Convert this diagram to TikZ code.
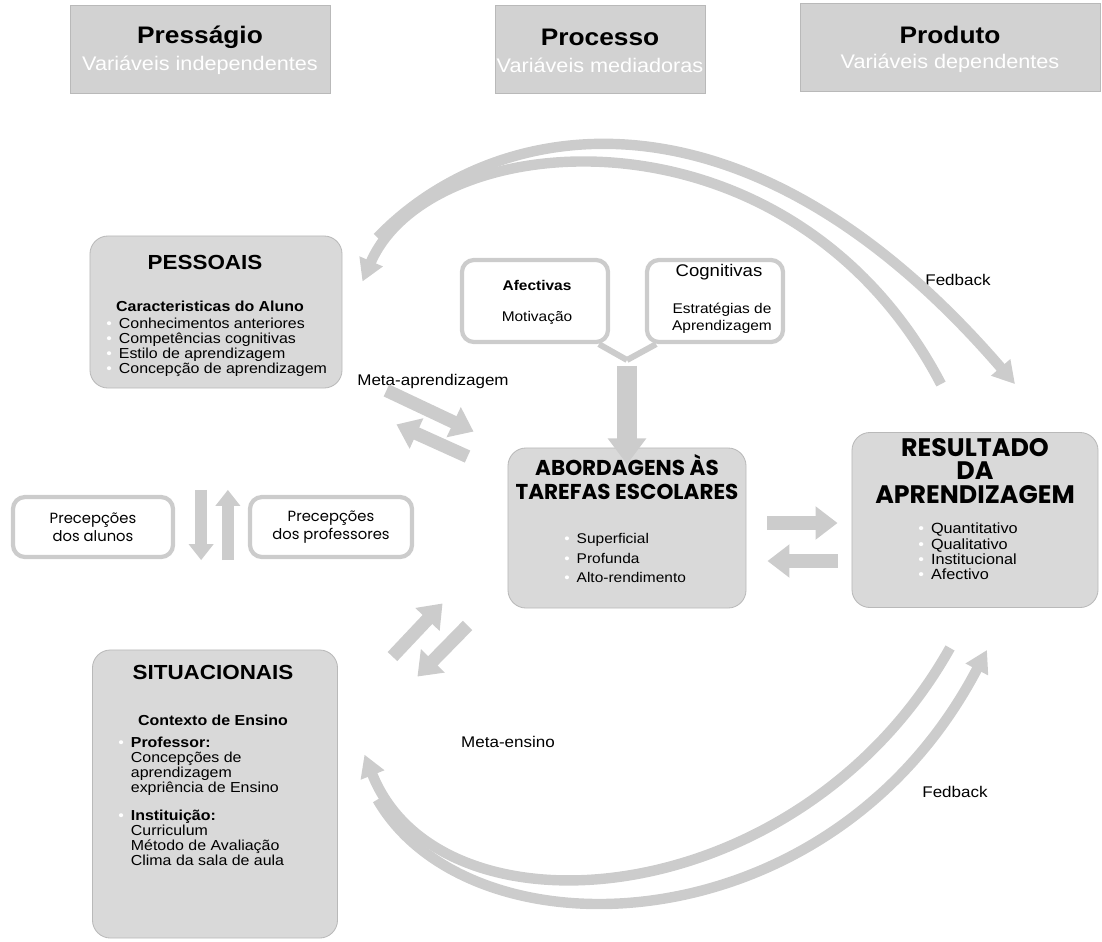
\documentclass[tikz,border=0pt]{standalone}
\usepackage{fontspec}
\setmainfont{Liberation Sans}[FakeStretch=1.1]
\newfontfamily\gothic{Poppins}
\usetikzlibrary{arrows.meta, positioning, calc}
\newcommand{\dotw}{\textcolor{white}{\textbullet}}
\newcommand{\bul}{\dotw\hspace{5pt}}

\begin{document}
\begin{tikzpicture}[x=0.025cm, y=-0.025cm,
    headbox/.style={rectangle, fill=gray!35, draw=gray!55, minimum height=2.2cm},
    headT/.style={font=\fontsize{17}{20}\selectfont\bfseries},
    headS/.style={font=\fontsize{14}{16}\selectfont, text=white},
    panel/.style={rectangle, rounded corners=0.45cm, fill=gray!30, draw=gray!55, line width=0.6pt},
    whitebox/.style={rectangle, rounded corners=0.3cm, fill=white, draw=gray!40, line width=3pt},
    ptitle/.style={font=\fontsize{14.5}{16}\selectfont\bfseries},
    psub/.style={font=\fontsize{10.3}{12}\selectfont\bfseries},
    plist/.style={font=\fontsize{10.3}{10.6}\selectfont, align=left, anchor=north west, inner sep=0pt},
    gtitle/.style={font=\gothic\fontsize{15.3}{16.5}\selectfont\bfseries, align=center},
    lbl/.style={font=\fontsize{11}{13}\selectfont},
    fat/.style={line width=0.48cm, gray!40, -{Triangle[width=0.92cm,length=0.65cm]}},
    slim/.style={line width=0.33cm, gray!40, -{Triangle[width=0.8cm,length=0.55cm]}},
    vert/.style={line width=0.3cm, gray!40, -{Triangle[width=0.6cm,length=0.4cm]}},
    arm/.style={line width=0.15cm, gray!40},
    arc/.style={line width=0.26cm, gray!40, -{Triangle[width=0.6cm,length=0.55cm]}}]
    \useasboundingbox (0,0) rectangle (1102,941);

    % Nodes
    \node[headbox, minimum width=6.5cm] (pressagio) at (200,49) {};
    \node[headT] (pressagioT) at (200,37) {Presságio};
    \node[headS] (pressagioS) at (200,65) {Variáveis independentes};
    \node[headbox, minimum width=5.25cm] (processo) at (600,49) {};
    \node[headT] (processoT) at (600,37) {Processo};
    \node[headS] (processoS) at (600,65) {Variáveis mediadoras};
    \node[headbox, minimum width=7.5cm] (produto) at (950,47) {};
    \node[headT] (produtoT) at (950,35) {Produto};
    \node[headS] (produtoS) at (950,63) {Variáveis dependentes};

    \node[panel, minimum width=6.3cm, minimum height=3.8cm] (pessoais) at (216,312) {};
    \node[ptitle] (pessoaisT) at (205,262) {PESSOAIS};
    \node[psub] (alunoT) at (210,306) {Caracteristicas do Aluno};
    \node[plist] (alunoL) at (106,318) {\bul Conhecimentos anteriores\\ \bul Competências cognitivas\\ \bul Estilo de aprendizagem\\ \bul Concepção de aprendizagem};

    \node[whitebox, minimum width=3.65cm, minimum height=2.05cm] (afect) at (535,301) {};
    \node[font=\fontsize{10}{12}\selectfont\bfseries] (afectT) at (537,285) {Afectivas};
    \node[font=\fontsize{10}{12}\selectfont] (afectM) at (537,318) {Motivação};
    \node[whitebox, minimum width=3.4cm, minimum height=2.05cm] (cogn) at (715,301) {};
    \node[font=\fontsize{12}{14}\selectfont] (cognT) at (719,272) {Cognitivas};
    \node[font=\fontsize{10}{12}\selectfont, align=center] (cognE) at (722,318) {Estratégias de\\Aprendizagem};
    \coordinate (ymerge) at (627,360);

    \node[lbl] (metaA) at (433,381) {Meta-aprendizagem};

    \node[panel, minimum width=5.95cm, minimum height=4cm] (abord) at (627,528) {};
    \node[gtitle] (abordT) at (627,477) {ABORDAGENS ÀS\\TAREFAS ESCOLARES};
    \node[plist, font=\fontsize{10}{13.9}\selectfont] (abordL) at (564,533) {\bul Superficial\\ \bul Profunda\\ \bul Alto-rendimento};

    \node[panel, minimum width=6.15cm, minimum height=4.375cm] (result) at (975,520) {};
    \node[gtitle, font=\gothic\fontsize{18}{16.7}\selectfont\bfseries] (resultT) at (975,471) {RESULTADO\\DA\\APRENDIZAGEM};
    \node[plist, font=\fontsize{10.5}{10.7}\selectfont] (resultL) at (918,523) {\bul Quantitativo\\ \bul Qualitativo\\ \bul Institucional\\ \bul Afectivo};

    \node[whitebox, font=\gothic\fontsize{10.5}{12.5}\selectfont, minimum width=4cm, minimum height=1.5cm, align=center] (percA) at (93,527) {Precepções\\dos alunos};
    \node[whitebox, font=\gothic\fontsize{10.5}{12.5}\selectfont, minimum width=4.05cm, minimum height=1.5cm, align=center] (percB) at (331,527) {Precepções\\dos professores};

    \node[panel, minimum width=6.125cm, minimum height=7.2cm] (situ) at (215,794) {};
    \node[ptitle] (situT) at (213,672) {SITUACIONAIS};
    \node[psub] (ensinoT) at (213,720) {Contexto de Ensino};
    \node[plist] (ensinoL) at (118,737) {\begin{tabular}{@{}l@{\hspace{5pt}}l@{}}
        \dotw & \textbf{Professor:}\\
              & Concepções de\\
              & aprendizagem\\
              & expriência de Ensino\\[9pt]
        \dotw & \textbf{Instituição:}\\
              & Curriculum\\
              & Método de Avaliação\\
              & Clima da sala de aula
        \end{tabular}};

    \node[lbl] (metaE) at (508,742) {Meta-ensino};
    \node[lbl] (fbTop) at (958,280) {Fedback};
    \node[lbl] (fbBot) at (955,792) {Fedback};

    % Edges
    \draw[arc] ([shift={(35,2)}]pessoais.north east) .. controls (490,120) and (740,65) .. ([shift={(40,-48)}]result.north);
    \draw[arc] ([shift={(-34,-48)}]result.north) .. controls (790,95) and (430,125) .. ([shift={(20,46)}]pessoais.north east);
    \draw[arc] ([shift={(-25,40)}]result.south) .. controls (800,915) and (440,945) .. ([shift={(26.5,105)}]situ.north east);
    \draw[arc] ([shift={(39.5,150)}]situ.north east) .. controls (470,960) and (830,950) .. ([shift={(12,42)}]result.south);

    \draw[arm] ([xshift=-8]afect.south east) -- (ymerge);
    \draw[arm] ([xshift=8]cogn.south west) -- (ymerge);
    \draw[fat] ([yshift=-4]ymerge) -- ([yshift=-12]abord.north);

    \draw[slim] ([shift={(44,2)}]pessoais.south east) -- ([shift={(-34,-16)}]abord.north west);
    \draw[slim] ([shift={(-40,9)}]abord.north west) -- ([shift={(54,36)}]pessoais.south east);
    \draw[slim] ([shift={(54.5,7)}]situ.north east) -- ([shift={(-65,-5)}]abord.south west);
    \draw[slim] ([shift={(-40,17)}]abord.south west) -- ([shift={(79.5,27)}]situ.north east);

    \draw[slim] ([shift={(21,-5)}]abord.east) -- ([shift={(-14,3)}]result.west);
    \draw[slim] ([shift={(-14,41)}]result.west) -- ([shift={(21,33)}]abord.east);

    \draw[vert] ([shift={(26,-5)}]percA.north east) -- ([shift={(26,1)}]percA.south east);
    \draw[vert] ([shift={(-20,1)}]percB.south west) -- ([shift={(-20,-5)}]percB.north west);
\end{tikzpicture}
\end{document}
